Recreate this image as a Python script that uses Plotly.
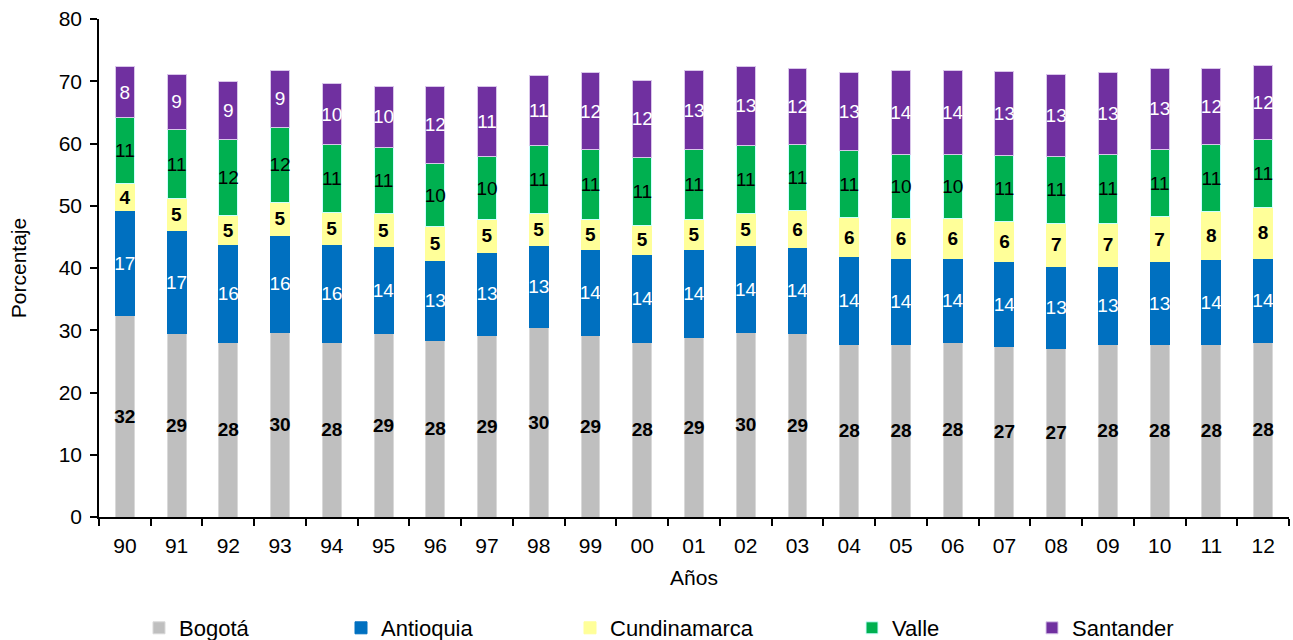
import plotly.graph_objects as go

years = ["90", "91", "92", "93", "94", "95", "96", "97", "98", "99", "00", "01",
         "02", "03", "04", "05", "06", "07", "08", "09", "10", "11", "12"]

bogota = [32.3, 29.4, 28.0, 29.6, 28.0, 29.4, 28.3, 29.2, 30.4, 29.2, 28.0, 28.9,
          29.6, 29.4, 27.7, 27.7, 28.0, 27.4, 27.0, 27.7, 27.7, 27.7, 28.0]
antioquia = [16.9, 16.7, 15.7, 15.7, 15.7, 14.0, 12.9, 13.3, 13.2, 13.8, 14.1, 14.1,
             14.0, 13.9, 14.1, 13.9, 13.6, 13.6, 13.3, 12.6, 13.3, 13.6, 13.6]
cundinamarca = [4.4, 5.0, 4.8, 5.3, 5.2, 5.4, 5.4, 5.3, 5.2, 4.8, 4.8, 4.8,
                5.2, 5.9, 6.3, 6.4, 6.4, 6.4, 6.9, 6.9, 7.2, 7.8, 8.2]
valle = [10.6, 11.2, 12.1, 12.0, 10.9, 10.6, 10.2, 10.1, 10.8, 11.2, 10.9, 11.2,
         10.9, 10.6, 10.7, 10.2, 10.2, 10.7, 10.7, 11.1, 10.9, 10.7, 10.8]
santander = [8.1, 8.8, 9.4, 9.1, 9.8, 9.8, 12.4, 11.3, 11.4, 12.4, 12.4, 12.7,
             12.7, 12.2, 12.6, 13.6, 13.6, 13.4, 13.2, 13.1, 12.9, 12.2, 11.9]

FONT = "Arial, Liberation Sans, sans-serif"

series = [
    ("Bogotá", bogota, "#BFBFBF", "#D9D9D9", "black", "bold", "legend"),
    ("Antioquia", antioquia, "#0070C0", "#0070C0", "white", "normal", "legend2"),
    ("Cundinamarca", cundinamarca, "#FFFF99", "#FFFF99", "black", "bold", "legend3"),
    ("Valle", valle, "#00B050", "#CCFFFF", "black", "normal", "legend4"),
    ("Santander", santander, "#7030A0", "#D9C6EA", "white", "normal", "legend5"),
]

fig = go.Figure()
for name, vals, col, lcol, tcol, weight, leg in series:
    fig.add_trace(go.Bar(
        x=years, y=vals, name=name,
        marker=dict(color=col, line=dict(color=lcol, width=1)),
        texttemplate="%{y:.0f}", textposition="inside", insidetextanchor="middle",
        textangle=0, constraintext="none",
        textfont=dict(family=FONT, size=19, color=tcol, weight=weight),
        legend=leg, hoverinfo="x+y+name",
    ))

# legend positions (paper x), one legend per series to match spacing
plot_l, plot_r = 99, 1289
W = plot_r - plot_l
text_starts = [179, 381, 610, 892, 1072]
leg_names = ["legend", "legend2", "legend3", "legend4", "legend5"]
legend_layout = {}
for ln, ts in zip(leg_names, text_starts):
    legend_layout[ln] = dict(
        x=(ts - 40 - plot_l) / W, xanchor="left",
        y=(517 - 628) / 498.0, yanchor="middle",
        orientation="h", font=dict(family=FONT, size=22, color="black"),
        bgcolor="rgba(0,0,0,0)", borderwidth=0,
        itemwidth=30,
    )

fig.update_layout(
    width=1293, height=640,
    margin=dict(l=99, r=4, t=19, b=123, pad=0, autoexpand=False),
    barmode="stack", bargap=0.635,
    plot_bgcolor="white", paper_bgcolor="white",
    font=dict(family=FONT, size=22, color="black"),
    showlegend=True,
    xaxis=dict(
        type="category", tickson="boundaries", ticks="outside", ticklen=7,
        tickwidth=1.5, tickcolor="black", showline=True, linecolor="black",
        linewidth=1.5, showgrid=False, zeroline=False,
        tickfont=dict(family=FONT, size=21, color="black"),
        ticklabelstandoff=9,
        title=dict(text="Años", font=dict(family=FONT, size=21, color="black"), standoff=14),
    ),
    yaxis=dict(
        range=[0, 80], dtick=10, ticks="outside", ticklen=7, tickwidth=1.5,
        tickcolor="black", showline=True, linecolor="black", linewidth=1.5,
        showgrid=False, zeroline=False,
        tickfont=dict(family=FONT, size=21, color="black"),
        ticklabelstandoff=4,
        title=dict(text="Porcentaje", font=dict(family=FONT, size=21, color="black"), standoff=26),
    ),
    **legend_layout,
)

fig.write_html("out.html", config={"displayModeBar": False},
               post_script="document.body.style.margin='0';")
